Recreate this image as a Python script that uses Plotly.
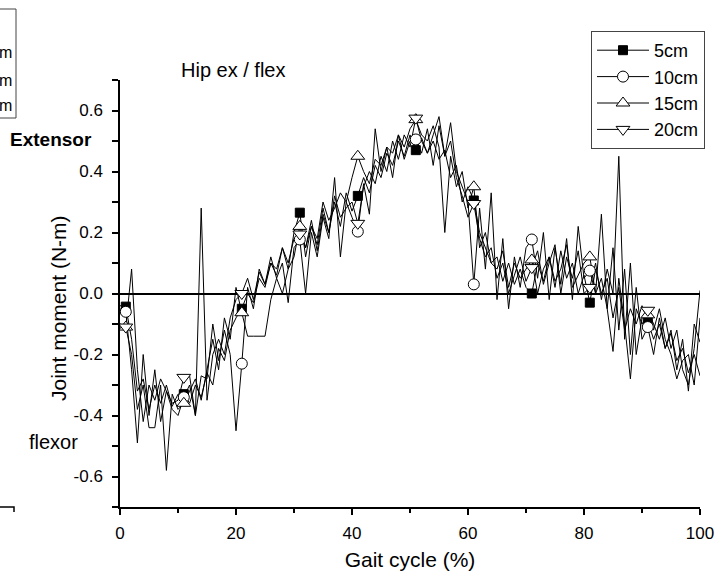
import plotly.graph_objects as go

# ---------------- data ----------------
gait = list(range(0, 101))

moment_5cm = [
    -0.04, -0.043, -0.15, -0.32, -0.28, -0.38, -0.30, -0.36, -0.30, -0.37,
    -0.33, -0.33, -0.36, -0.30, -0.34, -0.26, -0.30, -0.18, -0.22, -0.12,
    -0.08, -0.05, 0.00, -0.03, 0.05, 0.02, 0.10, 0.06, 0.15, 0.08,
    0.20, 0.265, 0.12, 0.22, 0.16, 0.28, 0.20, 0.30, 0.22, 0.33,
    0.27, 0.32, 0.38, 0.33, 0.42, 0.38, 0.46, 0.42, 0.50, 0.45,
    0.52, 0.47, 0.51, 0.46, 0.50, 0.44, 0.47, 0.38, 0.42, 0.30,
    0.35, 0.305, 0.20, 0.15, 0.10, 0.12, 0.04, 0.10, 0.03, 0.08,
    0.02, 0.00, 0.10, 0.04, 0.12, 0.02, 0.14, 0.05, 0.10, 0.00,
    0.06, -0.03, 0.08, 0.00, 0.05, -0.08, 0.02, -0.12, -0.05, -0.10,
    -0.04, -0.09, -0.15, -0.10, -0.18, -0.13, -0.22, -0.18, -0.26, -0.20,
    -0.27,
]

moment_10cm = [
    -0.05, -0.06, -0.25, -0.49, -0.20, -0.40, -0.25, -0.42, -0.32, -0.38,
    -0.40, -0.34, -0.30, -0.40, -0.27, -0.28, -0.10, -0.22, -0.12, -0.20,
    -0.45, -0.23, 0.02, -0.05, 0.08, 0.03, 0.12, 0.05, 0.10, -0.03,
    0.15, 0.177, 0.00, 0.20, 0.12, 0.25, 0.18, 0.38, 0.12, 0.30,
    0.25, 0.203, 0.36, 0.26, 0.54, 0.40, 0.48, 0.38, 0.52, 0.44,
    0.50, 0.505, 0.46, 0.54, 0.42, 0.55, 0.45, 0.56, 0.40, 0.35,
    0.30, 0.03, 0.28, 0.08, 0.33, -0.02, 0.18, -0.05, 0.12, 0.02,
    0.15, 0.177, 0.05, 0.20, -0.02, 0.15, 0.03, 0.18, -0.02, 0.22,
    0.05, 0.075, 0.00, 0.26, -0.05, 0.15, -0.12, 0.08, -0.20, 0.02,
    -0.15, -0.11, -0.20, -0.08, -0.18, -0.12, -0.25, -0.15, -0.32, -0.10,
    -0.16,
]

moment_15cm = [
    -0.10, -0.11, -0.20, -0.38, -0.30, -0.44, -0.44, -0.30, -0.58, -0.33,
    -0.38, -0.36, -0.32, -0.28, -0.35, -0.25, -0.15, -0.25, -0.08, -0.15,
    0.02, -0.063, -0.14, -0.14, -0.14, -0.14, -0.02, 0.05, 0.00, 0.08,
    0.12, 0.22, 0.15, 0.22, 0.18, 0.30, 0.24, 0.28, 0.33, 0.30,
    0.38, 0.45, 0.40, 0.36, 0.44, 0.42, 0.48, 0.46, 0.52, 0.48,
    0.54, 0.57, 0.52, 0.50, 0.55, 0.48, 0.20, 0.45, 0.35, 0.40,
    0.28, 0.35, 0.15, 0.20, 0.10, 0.08, 0.14, 0.02, 0.10, 0.05,
    0.08, 0.11, 0.00, 0.08, 0.12, 0.04, 0.08, 0.16, 0.02, 0.06,
    0.10, 0.12, 0.00, 0.05, -0.05, -0.19, 0.05, -0.10, -0.28, -0.05,
    -0.10, -0.07, -0.12, -0.05, -0.15, -0.20, -0.28, -0.22, -0.20, -0.30,
    -0.08,
]

moment_20cm = [
    -0.10, -0.11, 0.08, -0.25, -0.42, -0.30, -0.35, -0.28, -0.32, -0.36,
    -0.35, -0.275, -0.27, -0.40, 0.28, -0.35, -0.20, -0.15, -0.20, -0.08,
    -0.02, 0.00, 0.05, -0.02, 0.07, 0.03, 0.10, 0.08, 0.15, 0.10,
    0.18, 0.195, 0.15, 0.24, 0.14, 0.26, 0.20, 0.32, 0.25, 0.28,
    0.30, 0.23, 0.35, 0.40, 0.36, 0.45, 0.40, 0.50, 0.44, 0.52,
    0.48, 0.575, 0.50, 0.46, 0.52, 0.58, 0.45, 0.50, 0.38, 0.32,
    0.25, 0.295, 0.18, 0.12, 0.15, 0.05, 0.10, 0.00, 0.06, 0.12,
    0.04, 0.085, 0.14, 0.03, 0.10, 0.16, 0.00, 0.12, 0.05, 0.14,
    0.00, 0.02, 0.10, -0.02, 0.08, 0.00, 0.45, -0.15, 0.10, -0.20,
    -0.08, -0.055, -0.10, -0.15, -0.08, -0.18, -0.12, -0.25, -0.30, -0.18,
    0.01,
]

series_names = ["5cm", "10cm", "15cm", "20cm"]
series_values = [moment_5cm, moment_10cm, moment_15cm, moment_20cm]
y_tick_values = [-0.6, -0.4, -0.2, 0.0, 0.2, 0.4, 0.6]
y_tick_labels = [f"{v:.1f}" for v in y_tick_values]
x_tick_values = [0, 20, 40, 60, 80, 100]

# ---------------- styling ----------------
FONT = "Liberation Sans, Arial, sans-serif"
marker_styles = [
    dict(symbol="square", size=9, color="black", line=dict(color="black", width=1)),
    dict(symbol="circle", size=11, color="white", line=dict(color="black", width=1)),
    dict(symbol="triangle-up", size=12, color="white", line=dict(color="black", width=1)),
    dict(symbol="triangle-down", size=12, color="white", line=dict(color="black", width=1)),
]

L, R, T, B = 120, 28, 80, 67
W, H = 728, 574
PW, PH = W - L - R, H - T - B


def px(xp):
    return (xp - L) / PW


def py(yp):
    return (H - B - yp) / PH


fig = go.Figure()

# lines
for name, vals in zip(series_names, series_values):
    fig.add_trace(go.Scatter(x=gait, y=vals, mode="lines",
                             line=dict(color="black", width=1),
                             showlegend=False, hoverinfo="skip"))
# markers every 10 samples
for name, vals, ms in zip(series_names, series_values, marker_styles):
    fig.add_trace(go.Scatter(x=gait[1::10], y=vals[1::10], mode="markers",
                             marker=ms, showlegend=False, hoverinfo="skip"))
# legend entries
for name, ms in zip(series_names, marker_styles):
    fig.add_trace(go.Scatter(x=[None], y=[None], mode="lines+markers", name=name,
                             line=dict(color="black", width=1), marker=ms))

fig.update_layout(
    width=W, height=H, autosize=False,
    margin=dict(l=L, r=R, t=T, b=B, pad=0, autoexpand=False),
    paper_bgcolor="white", plot_bgcolor="white",
    font=dict(family=FONT, color="black", size=17),
    showlegend=True,
    legend=dict(x=px(591), y=py(31), xanchor="left", yanchor="top",
                bordercolor="#444", borderwidth=1, bgcolor="white",
                font=dict(size=18, family=FONT), itemwidth=52,
                tracegroupgap=0, itemsizing="trace"),
    xaxis=dict(range=[0, 100], tickvals=x_tick_values, showgrid=False, zeroline=False,
               showline=True, linecolor="black", linewidth=1.5,
               ticks="outside", ticklen=6, tickwidth=1.5, tickcolor="black",
               minor=dict(dtick=10, tick0=0, ticks="outside", ticklen=4, tickwidth=1.5, tickcolor="black"),
               tickfont=dict(size=17), ticklabelstandoff=4,
               title=dict(text="Gait cycle (%)", font=dict(size=21), standoff=10)),
    yaxis=dict(range=[-0.7, 0.7], tickvals=y_tick_values, ticktext=y_tick_labels,
               showgrid=False, zeroline=True, zerolinecolor="black", zerolinewidth=1.5,
               showline=True, linecolor="black", linewidth=1.5,
               ticks="outside", ticklen=6, tickwidth=1.5, tickcolor="black",
               minor=dict(dtick=0.1, tick0=-0.7, ticks="outside", ticklen=6, tickwidth=1.5, tickcolor="black"),
               tickfont=dict(size=17), ticklabelstandoff=6),
)

annotations = [
    dict(text="Joint moment (N-m)", x=px(58), y=py(308), textangle=-90, font=dict(size=21)),
    dict(text="Hip ex / flex", x=px(233), y=py(70), font=dict(size=20)),
    dict(text="<b>Extensor</b>", x=px(51), y=py(139), font=dict(size=19)),
    dict(text="flexor", x=px(53), y=py(442), font=dict(size=20)),
    dict(text="m", x=px(14), y=py(53), xanchor="right", font=dict(size=16)),
    dict(text="m", x=px(14), y=py(80), xanchor="right", font=dict(size=16)),
    dict(text="m", x=px(14), y=py(106), xanchor="right", font=dict(size=16)),
]
for a in annotations:
    a.setdefault("xanchor", "center")
    fig.add_annotation(xref="paper", yref="paper", showarrow=False, yanchor="middle", **a)

# cut-off neighbouring chart pieces at the left edge
fig.add_shape(type="rect", xref="paper", yref="paper",
              x0=px(-40), x1=px(16), y0=py(118), y1=py(9),
              line=dict(color="#444", width=1))
fig.add_shape(type="path", xref="paper", yref="paper",
              path=f"M {px(-5)} {py(507)} L {px(14)} {py(507)} L {px(14)} {py(512)}",
              line=dict(color="black", width=1.5))

fig.write_html("out.html", config={"displayModeBar": False},
               post_script="document.body.style.margin='0';")
